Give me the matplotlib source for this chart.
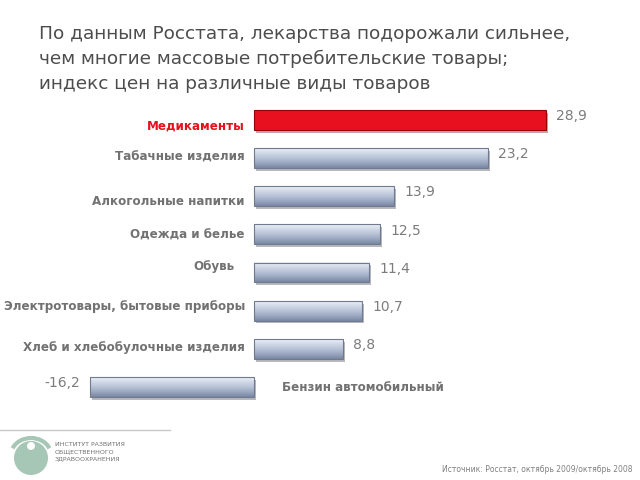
import numpy as np
import matplotlib
matplotlib.use('Agg')
import matplotlib.pyplot as plt
import matplotlib.patheffects as pe
from matplotlib.colors import LinearSegmentedColormap
from matplotlib.patches import Circle, Arc

categories = ['Медикаменты', 'Табачные изделия', 'Алкогольные напитки', 'Одежда и белье',
              'Обувь', 'Электротовары, бытовые приборы', 'Хлеб и хлебобулочные изделия',
              'Бензин автомобильный']
values = [28.9, 23.2, 13.9, 12.5, 11.4, 10.7, 8.8, -16.2]
value_labels = ['28,9', '23,2', '13,9', '12,5', '11,4', '10,7', '8,8', '-16,2']

title = ('По данным Росстата, лекарства подорожали сильнее,\n'
         'чем многие массовые потребительские товары;\n'
         'индекс цен на различные виды товаров')
source = 'Источник: Росстат, октябрь 2009/октябрь 2008'
logo_text = 'ИНСТИТУТ РАЗВИТИЯ\nОБЩЕСТВЕННОГО\nЗДРАВООХРАНЕНИЯ'

grey = '#727272'
red = '#e8101f'

fig = plt.figure(figsize=(6.4, 4.8), dpi=100)

# main bar axes, zero at ~254 px, ~10.1 px per unit
ax = fig.add_axes([0, 70 / 480, 1, 310 / 480])
y = np.arange(len(values))
h = 0.52
colors = [red if i == 0 else '#b4bfd4' for i in range(len(values))]
bars = ax.barh(y, values, height=h, color=colors, zorder=2)
for b in bars:
    b.set_path_effects([pe.SimplePatchShadow(offset=(1.5, -2), alpha=0.35), pe.Normal()])

cmap = LinearSegmentedColormap.from_list('silver', ['#eef1f6', '#d0d8e6', '#b7c2d6', '#9aa7c0', '#7a87a2'])
grad = np.linspace(0, 1, 64).reshape(-1, 1)
for i, b in enumerate(bars):
    if i == 0:
        continue
    x0, x1 = sorted([b.get_x(), b.get_x() + b.get_width()])
    ax.imshow(grad, extent=(x0, x1, b.get_y(), b.get_y() + b.get_height()),
              origin='lower', aspect='auto', cmap=cmap, zorder=3)

edges = ['#9b0000' if i == 0 else '#6f7a90' for i in range(len(values))]
ax.barh(y, values, height=h, fill=False, edgecolor=edges, linewidth=0.8, zorder=4)

ax.set_xlim(-254 / 10.1, (640 - 254) / 10.1)
ax.set_ylim(7.6, -0.52)
ax.axis('off')

# category labels (slightly offset like the original slide)
label_dy = [0.16, -0.03, 0.13, 0.03, -0.16, -0.1, -0.05, 0.0]
label_dx = [-0.9, -0.9, -0.9, -0.9, -1.9, -0.9, -0.9, 2.8]
for i, (c, v) in enumerate(zip(categories, values)):
    ha = 'right' if v > 0 else 'left'
    ax.text(label_dx[i], i + label_dy[i], c, ha=ha, va='center', fontsize=8.6,
            fontweight='bold', color=red if i == 0 else grey, zorder=5)

# value labels
for i, (v, lab) in enumerate(zip(values, value_labels)):
    off = 1.0 if v > 0 else -1.0
    ax.text(v + off, i - 0.1, lab, ha='left' if v > 0 else 'right', va='center',
            fontsize=10, color='#7c7c7c', zorder=5)

# overlay in pixel coordinates for title and footer
ov = fig.add_axes([0, 0, 1, 1], zorder=-1)
ov.set_xlim(0, 640)
ov.set_ylim(480, 0)
ov.axis('off')

ov.text(39, 25, title, ha='left', va='top', fontsize=13.3, color='#4d4d4d', linespacing=1.5)

ov.plot([0, 170], [430, 430], color='#c8c8c8', lw=1)
ov.add_patch(Circle((31, 458), 17, color='#a6c6b6', ec='none'))
ov.add_patch(Arc((31, 455), 40, 34, theta1=200, theta2=340, color='#a6c6b6', lw=3))
ov.add_patch(Circle((31, 446), 4, color='white', ec='none'))
ov.text(55, 452, logo_text, ha='left', va='center', fontsize=4.5, color='#707070',
        linespacing=1.5)
ov.text(632, 469, source, ha='right', va='center', fontsize=5.5, color='#808080')

fig.savefig('out.png', dpi=100)
